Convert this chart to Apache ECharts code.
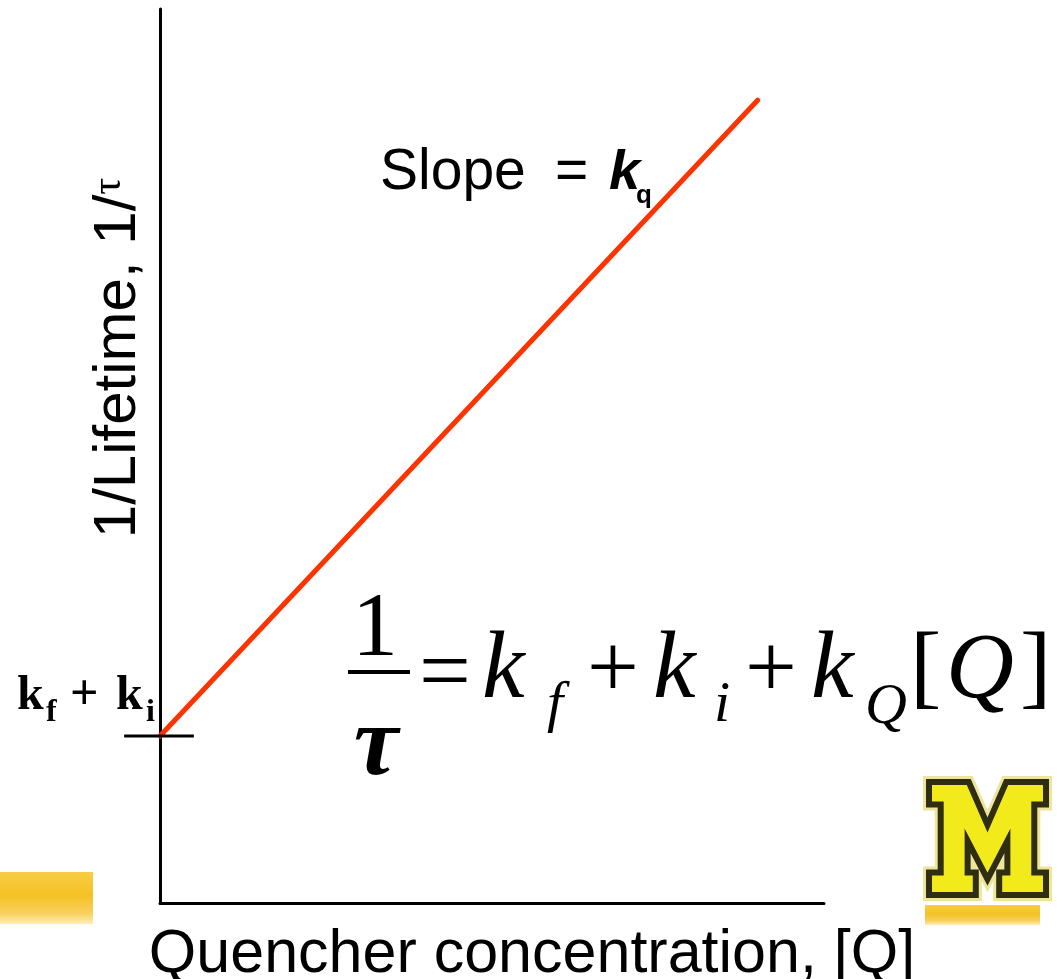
<!DOCTYPE html>
<html>
<head>
<meta charset="utf-8">
<script src="https://cdn.jsdelivr.net/npm/echarts@6/dist/echarts.min.js"></script>
<style>
  html, body { margin: 0; padding: 0; background: #ffffff; }
  #chart { width: 1064px; height: 979px; }
</style>
</head>
<body>
<div id="chart"></div>
<script>
// Inverse lifetime against quencher concentration (straight line, slope k_q)
const quencherConc = [0, 9.0];
const inverseLifetime = [1.868, 8.98];

// short marker across the vertical axis at the intercept k_f + k_i
const interceptValue = 1.868;
const interceptTickX = [-0.54, 0.51];

const xAxisTitle = 'Quencher concentration, [Q]';
const yAxisTitleMain = '1/Lifetime, 1/';
const yAxisTitleTau = 'τ';

const chart = echarts.init(document.getElementById('chart'), null, { renderer: 'canvas' });

const SERIF = '"Liberation Serif", "Times New Roman", serif';
const SANS = '"Liberation Sans", Arial, Helvetica, sans-serif';

// place a piece of text by its left edge (or centre) and its baseline
function piece(x, baseline, text, size, opts) {
  opts = opts || {};
  const family = opts.family || SERIF;
  return {
    type: 'text',
    x: x,
    y: baseline - 0.28 * size,
    z: 10,
    style: {
      text: text,
      font: (opts.style || 'normal') + ' ' + (opts.weight || 'normal') + ' ' + size + 'px ' + family,
      fill: opts.color || '#000000',
      align: opts.align || 'left',
      verticalAlign: 'middle'
    }
  };
}

// block "M" outline in unit coordinates
const blockM = [
  [0, 0], [0.34, 0], [0.5, 0.38], [0.66, 0], [1, 0], [1, 0.2], [0.9, 0.2], [0.9, 0.8],
  [1, 0.8], [1, 1], [0.6, 1], [0.6, 0.8], [0.67, 0.8], [0.67, 0.52], [0.5, 0.86],
  [0.33, 0.52], [0.33, 0.8], [0.4, 0.8], [0.4, 1], [0, 1], [0, 0.8], [0.1, 0.8],
  [0.1, 0.2], [0, 0.2]
];
const mBox = { x: 929, y: 782, w: 117, h: 113 };
const mPoints = blockM.map(p => [mBox.x + p[0] * mBox.w, mBox.y + p[1] * mBox.h]);

const brushFill = {
  type: 'linear', x: 0, y: 0, x2: 0, y2: 1,
  colorStops: [
    { offset: 0, color: '#f8cd45' },
    { offset: 0.45, color: '#f5c124' },
    { offset: 0.8, color: '#f8d160' },
    { offset: 1, color: '#fdeeb8' }
  ]
};

const option = {
  backgroundColor: '#ffffff',
  animation: false,
  grid: { left: 160, right: 240, top: 9, bottom: 76, containLabel: false, outerBoundsMode: 'none' },
  xAxis: {
    type: 'value',
    min: 0,
    max: 10,
    name: xAxisTitle,
    nameLocation: 'middle',
    nameGap: 22,
    nameTextStyle: {
      fontFamily: SANS,
      fontSize: 61,
      color: '#000000',
      padding: [0, 0, 0, 80]
    },
    axisLine: { show: true, onZero: false, lineStyle: { color: '#000000', width: 3 } },
    axisTick: { show: false },
    axisLabel: { show: false },
    splitLine: { show: false }
  },
  yAxis: {
    type: 'value',
    min: 0,
    max: 10,
    name: yAxisTitleMain + '{tau|' + yAxisTitleTau + '}',
    nameLocation: 'middle',
    nameRotate: 90,
    nameGap: 12,
    nameTextStyle: {
      fontFamily: SANS,
      fontSize: 60,
      color: '#000000',
      padding: [0, 0, 0, 196],
      rich: {
        tau: { fontFamily: SERIF, fontSize: 42, verticalAlign: 'top', color: '#000000' }
      }
    },
    axisLine: { show: true, onZero: false, lineStyle: { color: '#000000', width: 3 } },
    axisTick: { show: false },
    axisLabel: { show: false },
    splitLine: { show: false }
  },
  series: [
    {
      name: '1/τ',
      type: 'line',
      data: quencherConc.map((x, i) => [x, inverseLifetime[i]]),
      symbol: 'none',
      lineStyle: { color: '#ff3300', width: 5, cap: 'round' },
      z: 3
    },
    {
      name: 'k_f + k_i',
      type: 'custom',
      clip: false,
      data: [[interceptTickX[0], interceptTickX[1], interceptValue]],
      renderItem: function (params, api) {
        const a = api.coord([api.value(0), api.value(2)]);
        const b = api.coord([api.value(1), api.value(2)]);
        return {
          type: 'line',
          shape: { x1: a[0], y1: a[1], x2: b[0], y2: b[1] },
          style: { stroke: '#000000', lineWidth: 3 }
        };
      },
      z: 4
    }
  ],
  graphic: [
    // yellow brush strokes
    { type: 'rect', shape: { x: 0, y: 872, width: 93, height: 52 }, style: { fill: brushFill }, z: 1 },
    { type: 'rect', shape: { x: 925, y: 905, width: 115, height: 20 }, style: { fill: brushFill }, z: 1 },
    // block M
    { type: 'polygon', shape: { points: mPoints }, style: { fill: 'none', stroke: '#eee49a', lineWidth: 12, lineJoin: 'miter' }, z: 1 },
    { type: 'polygon', shape: { points: mPoints }, style: { fill: '#f3ea1c', stroke: '#2f2e12', lineWidth: 6, lineJoin: 'miter' }, z: 2 },

    // Slope = k_q
    piece(380, 189, 'Slope', 57, { family: SANS }),
    piece(555, 189, '=', 57, { family: SANS }),
    piece(609, 189, 'k', 56, { family: SANS, style: 'italic', weight: 'bold' }),
    piece(636, 203, 'q', 26, { family: SANS, weight: 'bold' }),

    // k_f + k_i at the intercept
    piece(17, 710, 'k', 48, { weight: 'bold' }),
    piece(46, 722, 'f', 32, { weight: 'bold' }),
    piece(70, 710, '+', 50, { weight: 'bold' }),
    piece(116, 710, 'k', 48, { weight: 'bold' }),
    piece(146, 722, 'i', 32, { weight: 'bold' }),

    // 1/τ = k_f + k_i + k_Q[Q]
    piece(375, 657, '1', 92, { align: 'center' }),
    { type: 'line', shape: { x1: 348, y1: 672, x2: 410, y2: 672 }, style: { stroke: '#000000', lineWidth: 4 }, z: 10 },
    piece(376, 776, 'τ', 100, { align: 'center', style: 'italic', weight: 'bold' }),
    piece(419, 703, '=', 92, {}),
    piece(482, 699, 'k', 96, { style: 'italic' }),
    piece(547, 722, 'f', 58, { style: 'italic' }),
    piece(587, 699, '+', 92, {}),
    piece(653, 699, 'k', 96, { style: 'italic' }),
    piece(714, 722, 'i', 58, { style: 'italic' }),
    piece(745, 699, '+', 92, {}),
    piece(811, 699, 'k', 96, { style: 'italic' }),
    piece(865, 724, 'Q', 58, { style: 'italic' }),
    piece(910, 699, '[', 94, {}),
    piece(946, 699, 'Q', 94, { style: 'italic' }),
    piece(1020, 699, ']', 94, {})
  ]
};

chart.setOption(option);
</script>
</body>
</html>
